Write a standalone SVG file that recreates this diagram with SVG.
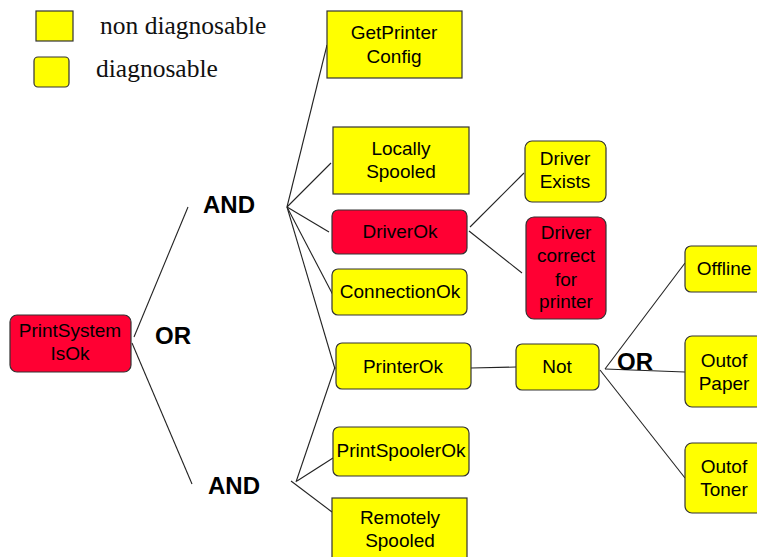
<svg xmlns="http://www.w3.org/2000/svg" width="757" height="557" viewBox="0 0 757 557">
<style>
.y{fill:#FFFF00;stroke:#333;stroke-width:1.2}
.r{fill:#FF0033;stroke:#333;stroke-width:1.2}
.t{font-family:"Liberation Sans",Arial,sans-serif;font-size:19px;fill:#000;text-anchor:middle}
.b{font-family:"Liberation Sans",Arial,sans-serif;font-size:24px;font-weight:bold;fill:#000;text-anchor:middle}
.s{font-family:"Liberation Serif","Times New Roman",serif;font-size:25.5px;fill:#111}
#connectors line{stroke:#222;stroke-width:1.1}
</style>
<rect width="757" height="557" fill="#fff"/>
<g id="legend">
<rect class="y" x="36" y="11" width="37" height="30"/>
<text class="s" x="100" y="34">non diagnosable</text>
<rect class="y" x="34" y="57" width="35" height="30" rx="4"/>
<text class="s" x="96" y="77">diagnosable</text>
</g>
<g id="connectors">
<line x1="134" y1="337" x2="188" y2="207"/>
<line x1="132" y1="343" x2="192" y2="484"/>
<line x1="287" y1="207" x2="327" y2="45"/>
<line x1="287" y1="207" x2="331" y2="163"/>
<line x1="287" y1="207" x2="329" y2="232"/>
<line x1="287" y1="207" x2="333" y2="295"/>
<line x1="287" y1="207" x2="335" y2="369"/>
<line x1="296" y1="482" x2="335" y2="367"/>
<line x1="297" y1="481" x2="333" y2="458"/>
<line x1="291" y1="481" x2="332" y2="512"/>
<line x1="470" y1="227" x2="524" y2="173"/>
<line x1="469" y1="231" x2="522" y2="273"/>
<line x1="471" y1="368" x2="516" y2="367"/>
<line x1="605" y1="369" x2="685" y2="263"/>
<line x1="605" y1="369" x2="685" y2="372"/>
<line x1="600" y1="370" x2="685" y2="478"/>
</g>
<g id="PrintSystemIsOk"><rect class="r" x="10" y="315" width="121" height="57" rx="7"/><text class="t" x="70" y="337">PrintSystem</text><text class="t" x="70" y="360">IsOk</text></g>
<g id="OR1"><text class="b" x="173" y="344">OR</text></g>
<g id="AND1"><text class="b" x="229" y="213">AND</text></g>
<g id="AND2"><text class="b" x="234" y="494">AND</text></g>
<g id="GetPrinterConfig"><rect class="y" x="327" y="11" width="135" height="67"/><text class="t" x="394" y="39">GetPrinter</text><text class="t" x="394" y="63">Config</text></g>
<g id="LocallySpooled"><rect class="y" x="333" y="127" width="136" height="67"/><text class="t" x="401" y="155">Locally</text><text class="t" x="401" y="178">Spooled</text></g>
<g id="DriverOk"><rect class="r" x="332" y="210" width="135" height="44" rx="6"/><text class="t" x="400" y="238">DriverOk</text></g>
<g id="ConnectionOk"><rect class="y" x="332" y="269" width="135" height="46" rx="6"/><text class="t" x="400" y="298">ConnectionOk</text></g>
<g id="PrinterOk"><rect class="y" x="336" y="343" width="135" height="46" rx="6"/><text class="t" x="403" y="373">PrinterOk</text></g>
<g id="PrintSpoolerOk"><rect class="y" x="333" y="427" width="136" height="49" rx="6"/><text class="t" x="401" y="457">PrintSpoolerOk</text></g>
<g id="RemotelySpooled"><rect class="y" x="332" y="498" width="135" height="70"/><text class="t" x="400" y="524">Remotely</text><text class="t" x="400" y="547">Spooled</text></g>
<g id="DriverExists"><rect class="y" x="525" y="141" width="81" height="61" rx="7"/><text class="t" x="565" y="165">Driver</text><text class="t" x="565" y="188">Exists</text></g>
<g id="DriverCorrect"><rect class="r" x="526" y="217" width="80" height="102" rx="8"/><text class="t" x="566" y="239">Driver</text><text class="t" x="566" y="262">correct</text><text class="t" x="566" y="286">for</text><text class="t" x="566" y="308">printer</text></g>
<g id="Not"><rect class="y" x="516" y="344" width="83" height="46" rx="6"/><text class="t" x="557" y="373">Not</text></g>
<g id="OR2"><text class="b" x="635" y="370">OR</text></g>
<g id="Offline"><rect class="y" x="685" y="246" width="80" height="46" rx="6"/><text class="t" x="724" y="275">Offline</text></g>
<g id="OutofPaper"><rect class="y" x="685" y="336" width="80" height="71" rx="7"/><text class="t" x="724" y="367">Outof</text><text class="t" x="724" y="390">Paper</text></g>
<g id="OutofToner"><rect class="y" x="685" y="443" width="80" height="70" rx="7"/><text class="t" x="724" y="473">Outof</text><text class="t" x="724" y="496">Toner</text></g>
</svg>
